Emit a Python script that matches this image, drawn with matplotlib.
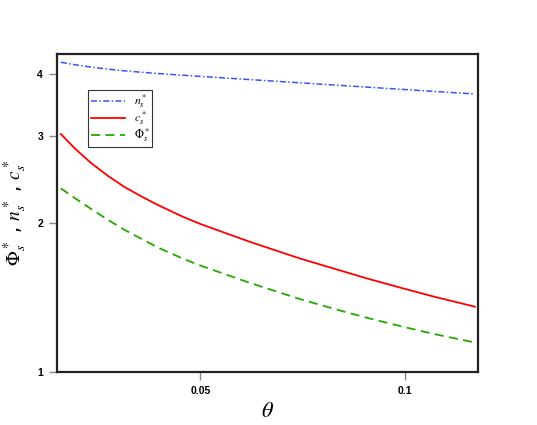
import numpy as np
import matplotlib
matplotlib.use("Agg")
import matplotlib.pyplot as plt
from matplotlib.ticker import FixedLocator, FixedFormatter, NullLocator

# values (log-log axes)
theta = [0.0312, 0.0327, 0.0346, 0.0366, 0.0387, 0.0410, 0.0433, 0.0472,
         0.05, 0.0592, 0.0700, 0.0802, 0.0882, 0.0988, 0.1106, 0.1266]
n_s = [4.224, 4.176, 4.129, 4.090, 4.058, 4.032, 4.008, 3.976,
       3.955, 3.896, 3.839, 3.793, 3.761, 3.724, 3.687, 3.644]
c_s = [3.026, 2.830, 2.640, 2.489, 2.364, 2.262, 2.175, 2.057,
       1.991, 1.831, 1.696, 1.604, 1.543, 1.478, 1.418, 1.355]
phi_s = [2.350, 2.246, 2.133, 2.029, 1.937, 1.857, 1.785, 1.693,
         1.641, 1.513, 1.404, 1.331, 1.285, 1.236, 1.192, 1.147]

x_ticks = [0.05, 0.1]
x_ticklabels = ["0.05", "0.1"]
y_ticks = [1, 2, 3, 4]
y_ticklabels = ["1", "2", "3", "4"]

plt.rcParams['mathtext.fontset'] = 'stix'

fig = plt.figure(figsize=(5.37, 4.25), dpi=100)
ax = fig.add_axes([57 / 537, 53 / 425, 421 / 537, 318 / 425])

ax.plot(theta, n_s, color='#3355ff', lw=1.1, linestyle=(0, (4, 1.5, 1, 1.5)),
        label=r'$n_s^*$')
ax.plot(theta, c_s, color='#ff0000', lw=1.3, linestyle='-', label=r'$c_s^*$')
ax.plot(theta, phi_s, color='#22aa00', lw=1.3, linestyle=(0, (5, 3)),
        label=r'$\Phi_s^*$')

ax.set_xscale('log')
ax.set_yscale('log')
ax.set_xlim(0.0308, 0.1279)
ax.set_ylim(1, 4.389)

ax.xaxis.set_major_locator(FixedLocator(x_ticks))
ax.xaxis.set_major_formatter(FixedFormatter(x_ticklabels))
ax.xaxis.set_minor_locator(NullLocator())
ax.yaxis.set_major_locator(FixedLocator(y_ticks))
ax.yaxis.set_major_formatter(FixedFormatter(y_ticklabels))
ax.yaxis.set_minor_locator(NullLocator())

ax.tick_params(axis='both', which='major', length=6, width=1, color='#888888',
               labelsize=7.5, pad=4)
for lab in ax.get_xticklabels() + ax.get_yticklabels():
    lab.set_fontfamily('Liberation Sans')
    lab.set_fontweight('bold')

for sp in ax.spines.values():
    sp.set_linewidth(1.6)
    sp.set_color('#222222')

ax.set_xlabel(r'$\theta$', fontsize=16, labelpad=4)
ax.set_ylabel(r'$\Phi_s^*$ , $n_s^*$ , $c_s^*$', fontsize=14, labelpad=6)

leg = ax.legend(loc='upper left', bbox_to_anchor=(0.074, 0.888), fontsize=8.5,
                frameon=True, fancybox=False, handlelength=2.9,
                handletextpad=0.7, borderpad=0.25, labelspacing=0.0,
                borderaxespad=0)
leg.get_frame().set_edgecolor('black')
leg.get_frame().set_linewidth(0.8)

fig.savefig('out.png', dpi=100)
